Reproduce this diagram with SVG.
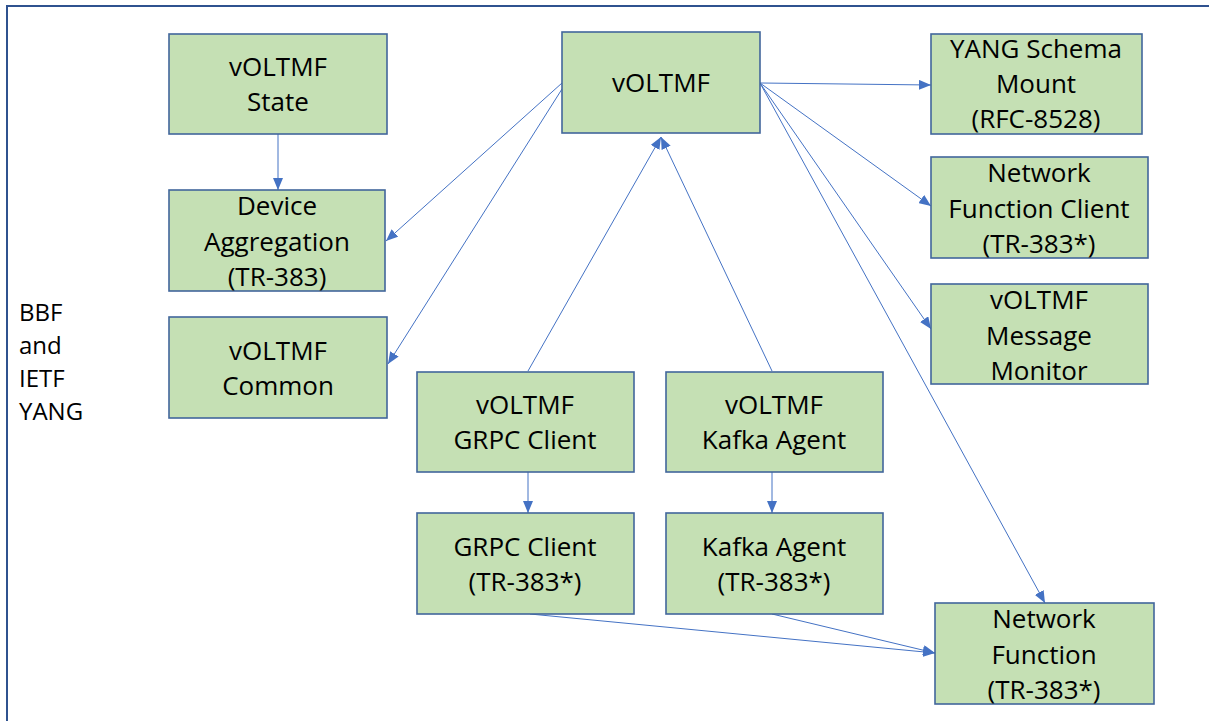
<svg xmlns="http://www.w3.org/2000/svg" width="1209" height="721" viewBox="0 0 1209 721">
<style>
.n{fill:#C5E0B4;stroke:#41669C;stroke-width:1.6}
.t{font-family:"Open Sans","Noto Sans",sans-serif;font-size:26px;fill:#000;text-anchor:middle}
.l{font-family:"Open Sans","Noto Sans",sans-serif;font-size:24px;fill:#000}
.c{stroke:#4472C4;stroke-width:1;fill:none;marker-end:url(#a)}
</style>
<defs>
<marker id="a" markerUnits="userSpaceOnUse" markerWidth="12" markerHeight="10" viewBox="0 0 12 10" refX="12" refY="5" orient="auto">
<path d="M0,0 L12,5 L0,10 Z" fill="#4472C4"/>
</marker>
</defs>
<rect x="7" y="6" width="1240" height="750" fill="#fff" stroke="#2F528F" stroke-width="2"/>
<g id="label-bbf">
<text class="l" x="19" y="321">BBF</text>
<text class="l" x="19" y="354">and</text>
<text class="l" x="19" y="387">IETF</text>
<text class="l" x="19" y="420">YANG</text>
</g>
<g id="connectors">
<line class="c" x1="278" y1="134" x2="278" y2="190"/>
<line class="c" x1="562" y1="83" x2="386" y2="241"/>
<line class="c" x1="562" y1="89" x2="388" y2="364"/>
<line class="c" x1="528" y1="371" x2="661" y2="137"/>
<line class="c" x1="772" y1="371" x2="661" y2="137"/>
<line class="c" x1="760" y1="83" x2="931" y2="85"/>
<line class="c" x1="760" y1="83" x2="931" y2="206"/>
<line class="c" x1="760" y1="83" x2="931" y2="329"/>
<line class="c" x1="760" y1="83" x2="1045" y2="603"/>
<line class="c" x1="528" y1="472" x2="528" y2="513"/>
<line class="c" x1="772" y1="472" x2="772" y2="513"/>
<line class="c" x1="530" y1="614" x2="935" y2="653"/>
<line class="c" x1="772" y1="614" x2="935" y2="653"/>
</g>
<g id="voltmf-state">
<rect class="n" x="169" y="34" width="218" height="100"/>
<text class="t" x="278" y="76">vOLTMF</text>
<text class="t" x="278" y="111">State</text>
</g>
<g id="device-aggregation">
<rect class="n" x="169" y="190" width="216" height="101"/>
<text class="t" x="277" y="215">Device</text>
<text class="t" x="277" y="251">Aggregation</text>
<text class="t" x="277" y="286">(TR-383)</text>
</g>
<g id="voltmf-common">
<rect class="n" x="169" y="317" width="218" height="101"/>
<text class="t" x="278" y="360">vOLTMF</text>
<text class="t" x="278" y="395">Common</text>
</g>
<g id="voltmf">
<rect class="n" x="562" y="32" width="198" height="101"/>
<text class="t" x="661" y="92">vOLTMF</text>
</g>
<g id="yang-schema-mount">
<rect class="n" x="931" y="34" width="211" height="100"/>
<text class="t" x="1036" y="58">YANG Schema</text>
<text class="t" x="1036" y="93">Mount</text>
<text class="t" x="1036" y="128">(RFC-8528)</text>
</g>
<g id="network-function-client">
<rect class="n" x="931" y="157" width="217" height="101"/>
<text class="t" x="1039" y="182">Network</text>
<text class="t" x="1039" y="218">Function Client</text>
<text class="t" x="1039" y="253">(TR-383*)</text>
</g>
<g id="voltmf-message-monitor">
<rect class="n" x="931" y="284" width="217" height="100"/>
<text class="t" x="1039" y="309">vOLTMF</text>
<text class="t" x="1039" y="345">Message</text>
<text class="t" x="1039" y="380">Monitor</text>
</g>
<g id="voltmf-grpc-client">
<rect class="n" x="417" y="372" width="217" height="100"/>
<text class="t" x="525" y="414">vOLTMF</text>
<text class="t" x="525" y="449">GRPC Client</text>
</g>
<g id="voltmf-kafka-agent">
<rect class="n" x="666" y="372" width="217" height="100"/>
<text class="t" x="774" y="414">vOLTMF</text>
<text class="t" x="774" y="449">Kafka Agent</text>
</g>
<g id="grpc-client">
<rect class="n" x="417" y="513" width="217" height="101"/>
<text class="t" x="525" y="556">GRPC Client</text>
<text class="t" x="525" y="591">(TR-383*)</text>
</g>
<g id="kafka-agent">
<rect class="n" x="666" y="513" width="217" height="101"/>
<text class="t" x="774" y="556">Kafka Agent</text>
<text class="t" x="774" y="591">(TR-383*)</text>
</g>
<g id="network-function">
<rect class="n" x="935" y="603" width="219" height="101"/>
<text class="t" x="1044" y="628">Network</text>
<text class="t" x="1044" y="664">Function</text>
<text class="t" x="1044" y="699">(TR-383*)</text>
</g>
</svg>
